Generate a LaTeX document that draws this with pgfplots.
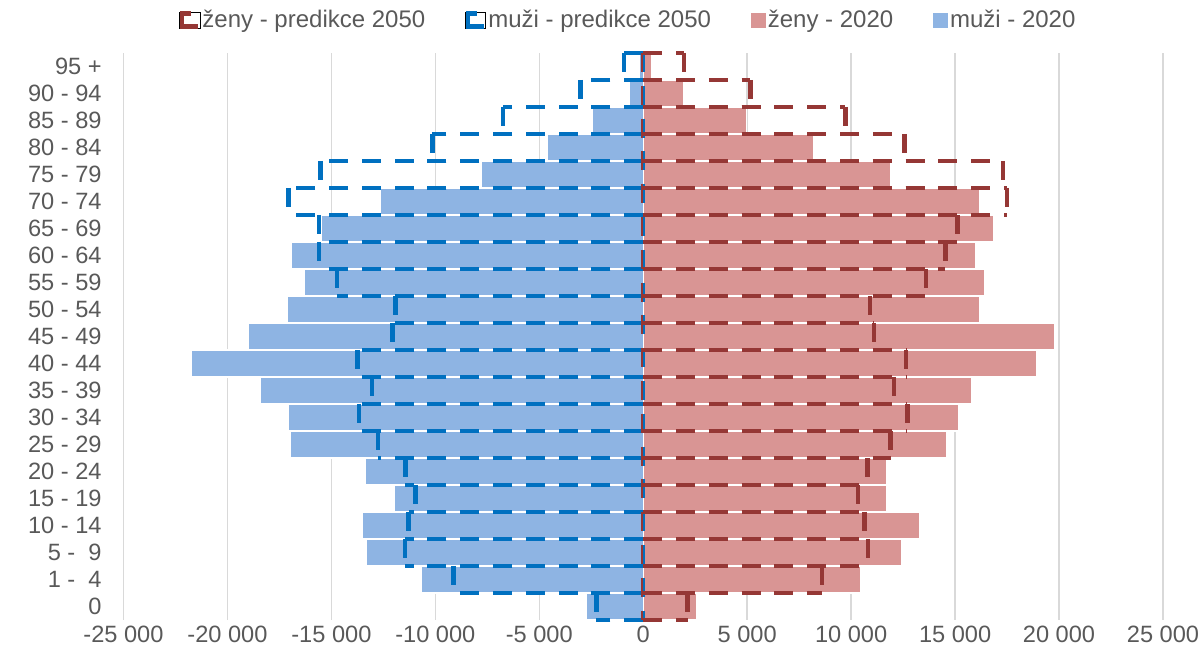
\documentclass[border=0pt]{standalone}
\usepackage{fontspec}
\setmainfont{Liberation Sans}
\usepackage{pgfplots}
\usepackage{pgfplotstable}
\pgfplotsset{compat=1.18}
\definecolor{menfill}{RGB}{142,180,227}
\definecolor{womenfill}{RGB}{217,149,148}
\definecolor{menline}{RGB}{0,112,192}
\definecolor{womenline}{RGB}{149,55,53}
\definecolor{txt}{RGB}{89,89,89}
\definecolor{gridc}{RGB}{217,217,217}
% y = age group index (0 = "0", 20 = "95 +")
\pgfplotstableread{
y  m20    w20    m50    w50
0  -2750  2580   -2250  2130
1  -10670 10470  -9120  8590
2  -13300 12450  -11460 10800
3  -13520 13290  -11290 10650
4  -11990 11710  -10960 10340
5  -13350 11710  -11440 10780
6  -16980 14610  -12770 11900
7  -17060 15160  -13660 12710
8  -18420 15800  -13060 12050
9  -21750 18920  -13750 12650
10 -18970 19810  -12060 11090
11 -17130 16160  -11920 10900
12 -16300 16430  -14740 13600
13 -16920 16000  -15600 14530
14 -15460 16830  -15600 15110
15 -12660 16160  -17060 17510
16 -7770  11900  -15520 17310
17 -4600  8190   -10140 12570
18 -2440  4950   -6750  9720
19 -690   1940   -3010  5150
20 -180   380    -930   1960
}\data
\tikzset{dashline/.style={line width=2.2pt, dash pattern=on 9.5pt off 6.9pt}}
\begin{document}
\begin{tikzpicture}
\path[use as bounding box] (0,0) rectangle (600.5pt,329.5pt);
\begin{axis}[
  at={(61.75pt,19.5pt)}, anchor=south west,
  scale only axis, width=519.75pt, height=283.5pt,
  xmin=-25000, xmax=25000, ymin=-0.5, ymax=20.5,
  clip=false,
  scaled x ticks=false,
  axis line style={draw=none},
  major tick length=0pt,
  xmajorgrids, grid style={gridc, line width=0.75pt},
  xtick={-25000,-20000,-15000,-10000,-5000,0,5000,10000,15000,20000,25000},
  xticklabels={-25 000,-20 000,-15 000,-10 000,-5 000,0,5 000,10 000,15 000,20 000,25 000},
  ytick={0,1,...,20},
  yticklabels={0,1 - \ 4,5 - \ 9,10 - 14,15 - 19,20 - 24,25 - 29,30 - 34,35 - 39,40 - 44,45 - 49,50 - 54,55 - 59,60 - 64,65 - 69,70 - 74,75 - 79,80 - 84,85 - 89,90 - 94,95 +},
  tick label style={font=\fontsize{11.8}{14}\selectfont, text=txt},
  xticklabel style={inner sep=0pt, anchor=north, yshift=-3pt},
  yticklabel style={inner sep=0pt, anchor=east, xshift=-10.75pt},
  legend columns=4,
  legend cell align=left,
  legend style={at={(0.4858,1.0582)}, anchor=center, draw=none, fill=none,
    font=\fontsize{12}{14}\selectfont, text=txt,
    nodes={inner xsep=1pt, inner ysep=1pt},
    /tikz/every even column/.append style={column sep=19pt}},
]
% 2020 bars
\addplot[xbar, bar width=1, bar shift=0pt, fill=menfill, draw=white, line width=0.6pt, forget plot]
  table[x=m20, y=y] {\data};
\addplot[xbar, bar width=1, bar shift=0pt, fill=womenfill, draw=white, line width=0.6pt, forget plot]
  table[x=w20, y=y] {\data};
% 2050 outlines: men
\addplot[xcomb, mark=none, draw=menline, dashline, forget plot] table[x=m50, y expr=\thisrow{y}+0.5] {\data};
\addplot[xcomb, mark=none, draw=menline, dashline, forget plot] table[x=m50, y expr=\thisrow{y}-0.5] {\data};
\addplot[quiver={u=0, v=-1}, -, mark=none, draw=menline, dashline, forget plot] table[x=m50, y expr=\thisrow{y}+0.5] {\data};
\addplot[mark=none, draw=menline, line width=1pt, dash pattern=on 9.5pt off 6.9pt, transform canvas={xshift=0.6pt}, forget plot] coordinates {(0,20.5) (0,-0.5)};
% 2050 outlines: women
\addplot[xcomb, mark=none, draw=womenline, dashline, forget plot] table[x=w50, y expr=\thisrow{y}+0.5] {\data};
\addplot[xcomb, mark=none, draw=womenline, dashline, forget plot] table[x=w50, y expr=\thisrow{y}-0.5] {\data};
\addplot[quiver={u=0, v=-1}, -, mark=none, draw=womenline, dashline, forget plot] table[x=w50, y expr=\thisrow{y}+0.5] {\data};
\addplot[mark=none, draw=womenline, line width=1pt, dash pattern=on 9.5pt off 6.9pt, transform canvas={xshift=-0.6pt}, forget plot] coordinates {(0,20.5) (0,-0.5)};
% legend
\addlegendimage{legend image code/.code={\useasboundingbox (-1.1pt,-4pt) rectangle (9pt,4pt);\draw[womenline, line width=2.2pt] (4.5pt,3.3pt) -- (0pt,3.3pt) -- (0pt,-3.3pt) -- (8pt,-3.3pt);}}
\addlegendentry{ženy - predikce 2050}
\addlegendimage{legend image code/.code={\useasboundingbox (-1.1pt,-4pt) rectangle (9pt,4pt);\draw[menline, line width=2.2pt] (4.5pt,3.3pt) -- (0pt,3.3pt) -- (0pt,-3.3pt) -- (8pt,-3.3pt);}}
\addlegendentry{muži - predikce 2050}
\addlegendimage{legend image code/.code={\fill[womenfill] (0pt,-3.5pt) rectangle (7pt,3.5pt);}}
\addlegendentry{ženy - 2020}
\addlegendimage{legend image code/.code={\fill[menfill] (0pt,-3.5pt) rectangle (7pt,3.5pt);}}
\addlegendentry{muži - 2020}
\end{axis}
\end{tikzpicture}
\end{document}
